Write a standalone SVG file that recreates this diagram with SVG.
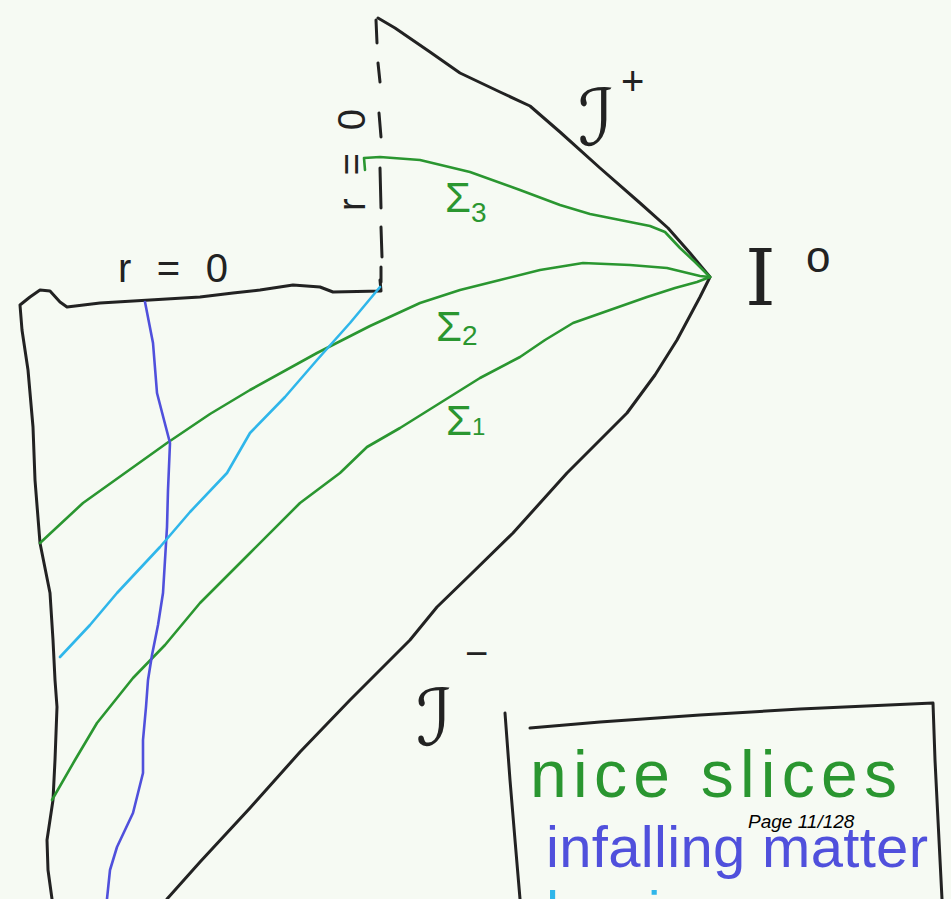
<svg xmlns="http://www.w3.org/2000/svg" width="951" height="899" viewBox="0 0 951 899">
<style>
.bk{fill:none;stroke:#222;stroke-width:3;stroke-linecap:round;stroke-linejoin:round}
.gr{fill:none;stroke:#2a9630;stroke-width:2.6;stroke-linecap:round;stroke-linejoin:round}
.bl{fill:none;stroke:#5050dc;stroke-width:2.6;stroke-linecap:round;stroke-linejoin:round}
.cy{fill:none;stroke:#2fb6ea;stroke-width:2.6;stroke-linecap:round;stroke-linejoin:round}
.lb{font-family:"Liberation Sans","DejaVu Sans",sans-serif;fill:#222}
.sg{font-family:"Liberation Sans","DejaVu Sans",sans-serif;fill:#2a9630}
.sc{font-family:"DejaVu Serif","DejaVu Sans",serif;fill:#222}
</style>
<rect width="951" height="899" fill="#f6faf3"/>
<g id="outline">
<path class="bk" d="M378,18 L395,28 L430,52 L460,73 L500,92 L530,106 L560,132 L600,168 L640,203 L668,228 L690,253 L710,277 L700,297 L677,340 L655,375 L627,413 L595,445 L567,473 L513,533 L470,575 L437,607 L410,640 L387,663 L350,700 L300,752 L250,808 L200,862 L167,899"/>
<path class="bk" d="M380,280 L381,291 L333,292 L320,287 L293,285 L260,290 L233,293 L200,297 L150,300 L100,303 L67,307 L60,302 L50,291 L40,290 L30,297 L20,305 L22,330 L28,370 L33,427 L35,480 L40,543 L50,593 L53,640 L55,680 L57,707 L55,760 L53,800 L47,840 L48,870 L52,899"/>
<g id="dashed">
<path class="bk" d="M376,20 L377,43 M378,63 L380,82 M379,113 L381,137 M380,168 L381,208 M381,227 L382,257 M381,267 L381,282"/>
</g>
</g>
<g id="connectors">
<path id="sigma3" class="gr" d="M365,170 L364,158 L380,157 L420,160 L470,172 L520,190 L560,205 L590,214 L620,220 L650,226 L665,232 L680,248 L695,262 L710,277"/>
<path id="sigma2" class="gr" d="M40,543 L83,503 L125,473 L167,443 L210,414 L250,390 L317,353 L370,326 L420,303 L460,290 L500,280 L540,270 L583,263 L630,265 L667,268 L700,276 L710,277"/>
<path id="sigma1" class="gr" d="M52,800 L75,760 L97,723 L133,678 L165,645 L200,603 L250,553 L300,503 L340,473 L367,447 L400,428 L440,403 L480,378 L520,357 L545,340 L573,323 L610,310 L647,297 L675,288 L697,282 L710,277"/>
<path id="matter" class="bl" d="M145,302 L153,343 L157,393 L164,420 L170,443 L168,490 L167,527 L165,560 L163,593 L158,625 L152,655 L148,680 L146,707 L143,740 L143,773 L133,813 L117,847 L110,870 L107,899"/>
<path id="ray" class="cy" d="M380,287 L350,323 L317,360 L285,397 L250,433 L227,473 L190,512 L160,547 L117,593 L90,625 L60,657"/>
</g>
<g id="label-r0">
<text class="lb" x="118" y="282" font-size="40" textLength="110" lengthAdjust="spacing">r=0</text>
<text class="lb" x="0" y="0" font-size="38" textLength="102" lengthAdjust="spacing" transform="translate(365,211) rotate(-90)">r=0</text>
</g>
<g id="label-sigma">
<text class="sg" x="445" y="212" font-size="42">Σ<tspan font-size="28" dy="10">3</tspan></text>
<text class="sg" x="436" y="341" font-size="42">Σ<tspan font-size="28" dy="4">2</tspan></text>
<text class="sg" x="446" y="435" font-size="42">Σ<tspan font-size="24" dy="0">1</tspan></text>
</g>
<g id="label-i0">
<text class="sc" x="745" y="305" font-size="78" font-family="Liberation Serif">I</text>
<text class="lb" x="806" y="272" font-size="44">o</text>
</g>
<g id="label-scri-plus">
<text class="sc" x="578" y="145" font-size="78">ℐ</text>
<text class="lb" x="621" y="95" font-size="40">+</text>
</g>
<g id="label-scri-minus">
<text class="sc" x="416" y="745" font-size="78">ℐ</text>
<text class="lb" x="465" y="667" font-size="40">−</text>
</g>
<g id="legend">
<path class="bk" d="M530,728 L600,722 L700,715 L800,709 L933,703 L935,760 L938,820 L942,899"/>
<path class="bk" d="M505,713 L510,780 L515,840 L520,899"/>
<text x="530" y="797" font-size="66" fill="#2a9630" font-family="Liberation Sans,sans-serif" textLength="367" lengthAdjust="spacing">nice slices</text>
<text x="546" y="867" font-size="58" fill="#5050dc" font-family="Liberation Sans,sans-serif" textLength="382" lengthAdjust="spacing">infalling matter</text>
<text x="546" y="932" font-size="58" fill="#2fb6ea" font-family="Liberation Sans,sans-serif" letter-spacing="6">horizon</text>
</g>
<text x="748" y="828" font-size="19" font-style="italic" fill="#000" font-family="Liberation Sans,Arial,sans-serif">Page 11/128</text>
</svg>
